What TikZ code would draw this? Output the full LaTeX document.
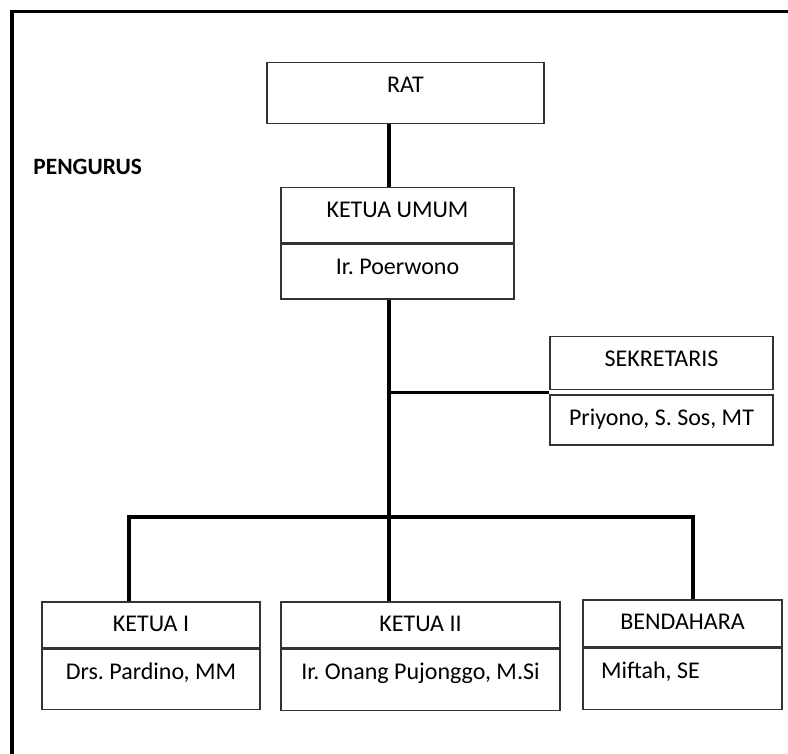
\documentclass[tikz,border=0pt]{standalone}
\usepackage{fontspec}
\setmainfont{Carlito}
\usetikzlibrary{positioning}
\frenchspacing

\begin{document}
\begin{tikzpicture}
[x=0.5pt, y=-0.5pt,
every node/.style={font=\fontsize{12}{14}\selectfont, inner sep=0pt, text height=15pt},
part/.style={draw=black!80, line width=0.75pt, align=center},
link/.style={line width=1.6pt},
]
\useasboundingbox (0,0) rectangle (788,754);
\draw[line width=1.8pt] (12,754) -- (12,11.7) -- (788,11.7);
\node[anchor=base west, font=\fontsize{11.7}{14}\selectfont\bfseries] (pengurus) at (33,175) {PENGURUS};

\node[part, anchor=north, minimum width=138.5pt, text depth=15.5pt] (rat) at (405.5,62) {RAT};
\node[part, anchor=north, minimum width=116.5pt, text depth=12.5pt] (umum) at (397.5,187) {KETUA UMUM};
\node[part, below=0pt of umum, minimum width=116.5pt, text depth=12.5pt] (umumName) {Ir. Poerwono};
\node[part, anchor=north, minimum width=111.5pt, text depth=11.5pt] (sekr) at (661.5,336) {SEKRETARIS};
\node[part, below=2pt of sekr, minimum width=111.5pt, text depth=10pt] (sekrName) {Priyono, S. Sos, MT};
\node[part, anchor=north, minimum width=109pt, text depth=8pt] (k1) at (151,601) {KETUA I};
\node[part, below=0pt of k1, minimum width=109pt, text depth=15pt] (k1Name) {Drs. Pardino, MM};
\node[part, anchor=north, minimum width=139.5pt, text depth=8pt] (k2) at (420.5,601) {KETUA II};
\node[part, below=0pt of k2, minimum width=139.5pt, text depth=15.5pt] (k2Name) {Ir. Onang Pujonggo, M.Si};
\node[part, anchor=north, minimum width=99.5pt, text depth=8.5pt] (bend) at (682.5,599) {BENDAHARA};
\node[part, below=0pt of bend, text width=81.5pt, inner xsep=9pt, align=flush left, text depth=15.5pt] (bendName) {Miftah, SE};

% garis
\coordinate (spine) at (389,0);
\coordinate (forkL) at (129,517);
\coordinate (forkR) at (693,517);
\coordinate (sekrJoin) at ([yshift=-1pt]sekr.south west);
\draw[link] (rat.south -| spine) -- (umum.north -| spine);
\draw[link] (umumName.south -| spine) -- (forkL -| spine) -- (k2.north -| spine);
\draw[link] (sekrJoin -| spine) -- (sekrJoin);
\draw[link] (k1.north -| forkL) -- (forkL) -- (forkR) -- (forkR |- bend.north);
\end{tikzpicture}
\end{document}
